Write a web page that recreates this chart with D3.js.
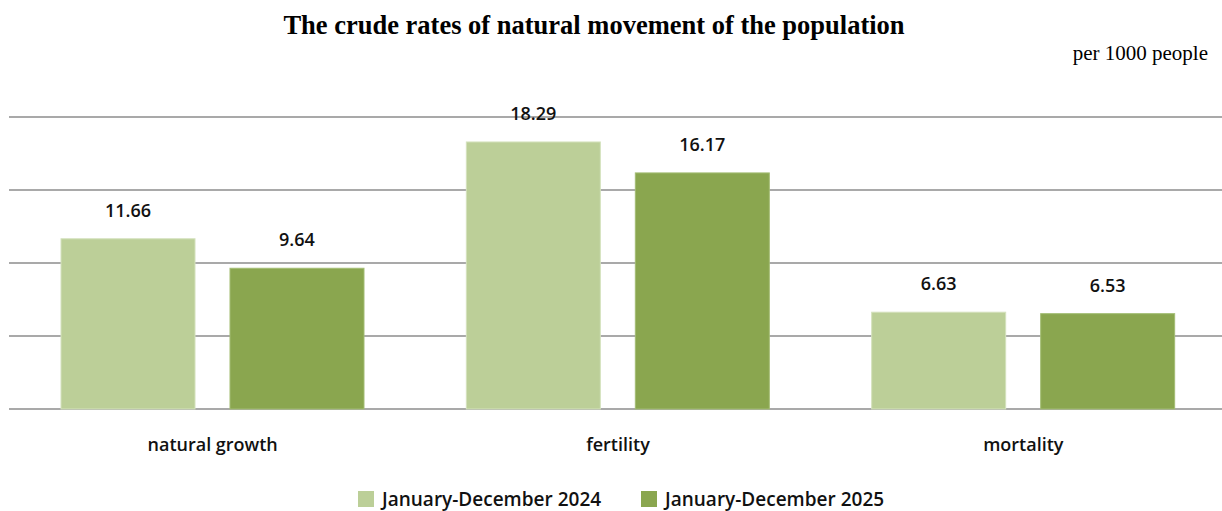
<!DOCTYPE html>
<html>
<head>
<meta charset="utf-8">
<script src="https://cdn.jsdelivr.net/npm/d3@7"></script>
<style>
  body { margin: 0; background: #fff; }
  svg { display: block; }
  .lbl { font-family: "Open Sans", "Noto Sans", sans-serif; font-weight: 600; font-size: 18px; fill: #111; }
</style>
</head>
<body>
<div id="chart"></div>
<script>
var categories = ["natural growth", "fertility", "mortality"];
var seriesNames = ["January-December 2024", "January-December 2025"];
var values2024 = [11.66, 18.29, 6.63];
var values2025 = [9.64, 16.17, 6.53];
var gridTicks = [0, 5, 10, 15, 20];

var colors = ["#bccf98", "#8aa64f"];
var W = 1222, H = 511;

var svg = d3.select("#chart").append("svg").attr("width", W).attr("height", H);

svg.append("text")
    .attr("x", 594).attr("y", 34)
    .attr("text-anchor", "middle")
    .style("font-family", "'Liberation Serif', 'Times New Roman', serif")
    .style("font-weight", "bold").style("font-size", "26.5px")
    .text("The crude rates of natural movement of the population");

svg.append("text")
    .attr("x", 1208).attr("y", 60)
    .attr("text-anchor", "end")
    .style("font-family", "'Liberation Serif', 'Times New Roman', serif")
    .style("font-size", "21px")
    .text("per 1000 people");

var x0 = d3.scaleBand().domain(categories).range([10, 1226]);
var x1 = d3.scaleBand().domain(seriesNames).range([51, 354]).paddingInner(0.207);
var y = d3.scaleLinear().domain([0, 20]).range([409, 117]);

svg.append("g").selectAll("line")
    .data(gridTicks)
    .enter().append("line")
    .attr("x1", 9).attr("x2", W)
    .attr("y1", function(d) { return y(d); })
    .attr("y2", function(d) { return y(d); })
    .attr("stroke", "#8c8c8c")
    .attr("stroke-width", 1.5);

var rows = categories.map(function(c, i) {
    return { cat: c, vals: [values2024[i], values2025[i]] };
});

var grp = svg.append("g").selectAll("g")
    .data(rows)
    .enter().append("g")
    .attr("transform", function(d) { return "translate(" + x0(d.cat) + ",0)"; });

grp.selectAll("rect")
    .data(function(d) { return d.vals.map(function(v, j) { return { s: seriesNames[j], v: v, j: j }; }); })
    .enter().append("rect")
    .attr("x", function(d) { return x1(d.s); })
    .attr("width", x1.bandwidth())
    .attr("y", function(d) { return y(d.v); })
    .attr("height", function(d) { return y(0) - y(d.v); })
    .attr("fill", function(d) { return colors[d.j]; })
    .attr("stroke", function(d) { return d.j ? "#a3bd74" : "#d4e2bd"; })
    .attr("stroke-width", 1);

grp.selectAll("text")
    .data(function(d) { return d.vals.map(function(v, j) { return { s: seriesNames[j], v: v }; }); })
    .enter().append("text")
    .attr("class", "lbl")
    .attr("x", function(d) { return x1(d.s) + x1.bandwidth() / 2; })
    .attr("y", function(d) { return y(d.v) - 22; })
    .attr("text-anchor", "middle")
    .text(function(d) { return d.v.toFixed(2); });

svg.append("g").selectAll("text")
    .data(categories)
    .enter().append("text")
    .attr("class", "lbl")
    .attr("x", function(d) { return x0(d) + x0.bandwidth() / 2; })
    .attr("y", 451)
    .attr("text-anchor", "middle")
    .text(function(d) { return d; });

var legX = [358, 641];
var leg = svg.append("g").selectAll("g")
    .data(seriesNames)
    .enter().append("g")
    .attr("transform", function(d, i) { return "translate(" + legX[i] + ",491)"; });

leg.append("rect")
    .attr("width", 16).attr("height", 16)
    .attr("fill", function(d, i) { return colors[i]; });

leg.append("text")
    .attr("class", "lbl")
    .style("font-size", "19px")
    .attr("x", 24).attr("y", 15)
    .text(function(d) { return d; });
</script>
</body>
</html>
